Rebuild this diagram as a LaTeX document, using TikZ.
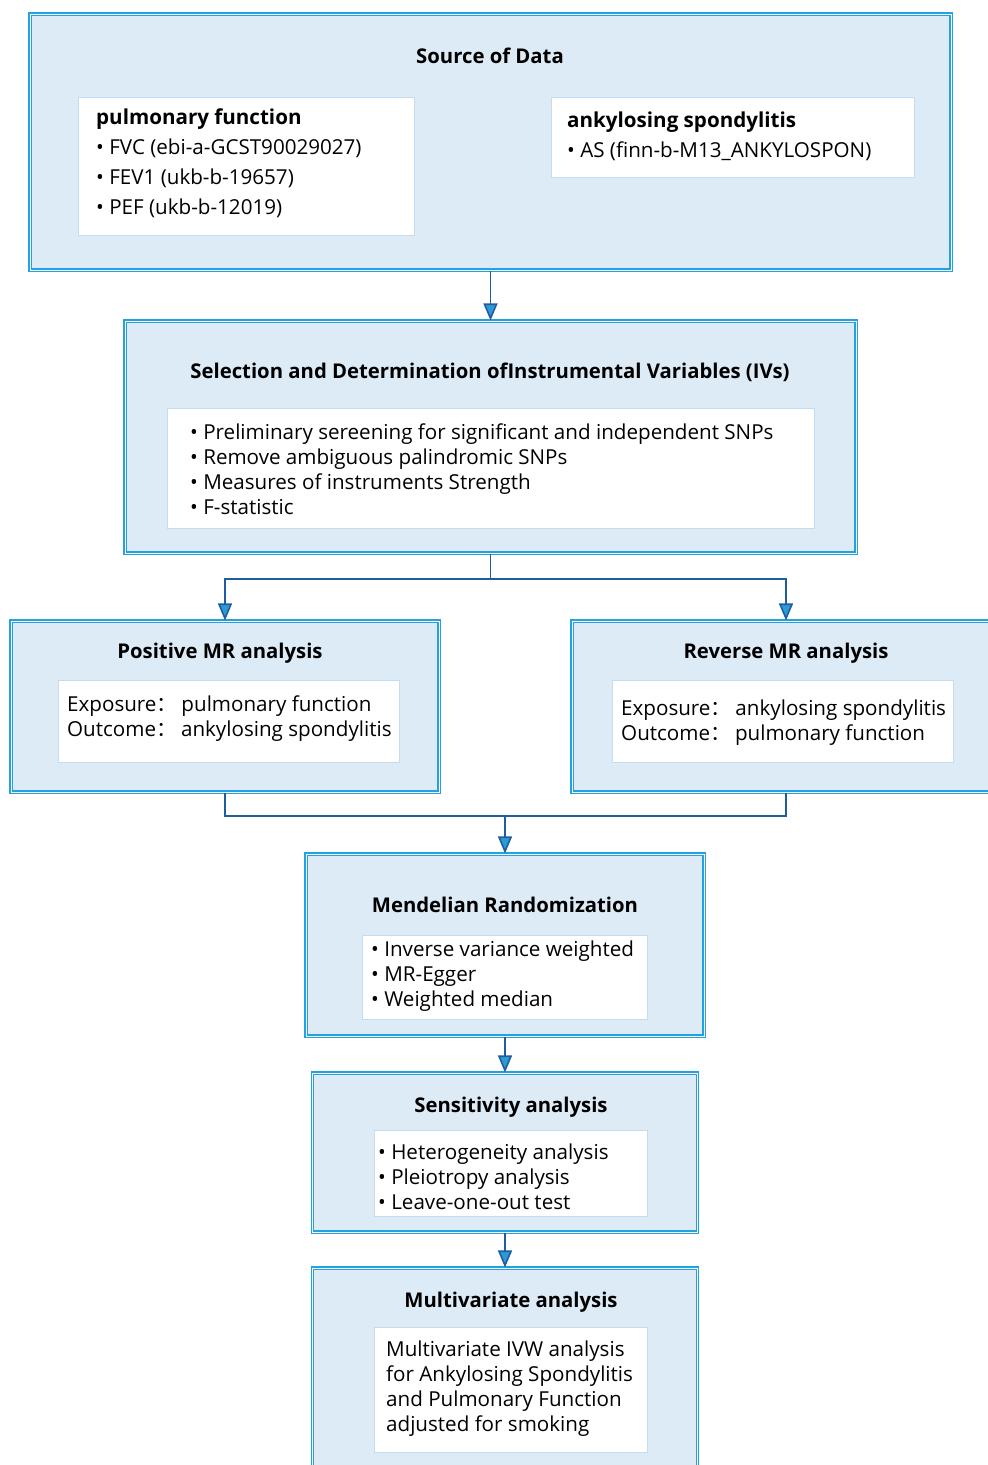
\documentclass[tikz,border=0pt]{standalone}
\usepackage{fontspec}
\setmainfont{Open Sans}
\newfontfamily\cjk{Noto Sans CJK SC}
\usetikzlibrary{arrows.meta}

\definecolor{boxfill}{HTML}{DDEBF7}
\definecolor{boxline}{HTML}{22A2DE}
\definecolor{innerline}{HTML}{C3DCEF}
\definecolor{linkline}{HTML}{1F5D9F}
\definecolor{tipfill}{HTML}{2B9BD5}

\newcommand{\fcolon}{{\cjk ：}\hspace{-1pt}}

\tikzset{
  outerbox/.style={draw=boxline, fill=boxfill, line width=1.1pt, double=white, double distance=0.9pt, inner sep=0pt},
  innerbox/.style={draw=innerline, fill=white, line width=0.8pt, inner sep=0pt},
  titletext/.style={font=\fontsize{20.3}{24}\selectfont\bfseries, inner sep=0pt},
  bodytext/.style={font=\fontsize{20.6}{#1}\selectfont, align=left, anchor=west, inner sep=0pt},
  bodytext/.default=25,
  link/.style={draw=linkline, line width=1.6pt},
  arr/.style={link, -{Triangle[width=14pt,length=17pt,fill=tipfill]}},
}

\begin{document}
\begin{tikzpicture}[x=1pt,y=-1pt]
  \useasboundingbox (0,0) rectangle (988,1465);
  \clip (0,0) rectangle (988,1465);

  % source of data
  \node[outerbox, minimum width=921pt, minimum height=256pt] (src) at (490.5,142) {};
  \node[titletext] (srctitle) at (490,56) {Source of Data};
  \node[innerbox, minimum width=336pt, minimum height=138pt] (pfbox) at (246,166) {};
  \node[bodytext=30] (pftext) at (96,163) {\textbf{pulmonary function}\\• FVC (ebi-a-GCST90029027)\\• FEV1 (ukb-b-19657)\\• PEF (ukb-b-12019)};
  \node[innerbox, minimum width=363pt, minimum height=80pt] (asbox) at (732.5,137) {};
  \node[bodytext=30] (astext) at (567,136) {\textbf{ankylosing spondylitis}\\• AS (finn-b-M13\_ANKYLOSPON)};

  % instrumental variables
  \node[outerbox, minimum width=731pt, minimum height=232pt] (sel) at (490.5,437) {};
  \node[titletext] (seltitle) at (490,372) {Selection and Determination ofInstrumental Variables (IVs)};
  \node[innerbox, minimum width=647pt, minimum height=120pt] (selbox) at (490.5,468) {};
  \node[bodytext] (seltext) at (190,469.5) {• Preliminary sereening for significant and independent SNPs\\• Remove ambiguous palindromic SNPs\\• Measures of instruments Strength\\• F-statistic};

  % two directions
  \node[outerbox, minimum width=428pt, minimum height=171pt] (pos) at (225,706.5) {};
  \node[titletext] (postitle) at (220,653) {Positive MR analysis};
  \node[innerbox, minimum width=341pt, minimum height=82pt] (posbox) at (228.5,721) {};
  \node[bodytext] (postext) at (67,718.5) {Exposure\fcolon{} pulmonary function\\Outcome\fcolon{} ankylosing spondylitis};

  \node[outerbox, minimum width=428pt, minimum height=171pt] (rev) at (786,706.5) {};
  \node[titletext] (revtitle) at (786,653) {Reverse MR analysis};
  \node[innerbox, minimum width=341pt, minimum height=82pt] (revbox) at (782.5,721) {};
  \node[bodytext] (revtext) at (621,722.5) {Exposure\fcolon{} ankylosing spondylitis\\Outcome\fcolon{} pulmonary function};

  % mendelian randomization
  \node[outerbox, minimum width=398pt, minimum height=182pt] (mr) at (505,945) {};
  \node[titletext] (mrtitle) at (505,905) {Mendelian Randomization};
  \node[innerbox, minimum width=285pt, minimum height=84pt] (mrbox) at (504.5,977) {};
  \node[bodytext] (mrtext) at (371,976) {• Inverse variance weighted\\• MR-Egger\\• Weighted median};

  % sensitivity
  \node[outerbox, minimum width=385pt, minimum height=159pt] (sens) at (505,1152.5) {};
  \node[titletext] (senstitle) at (511,1107) {Sensitivity analysis};
  \node[innerbox, minimum width=273pt, minimum height=86pt] (sensbox) at (510.5,1173) {};
  \node[bodytext] (senstext) at (378,1177) {• Heterogeneity analysis\\• Pleiotropy analysis\\• Leave-one-out test};

  % multivariate
  \node[outerbox, minimum width=385pt, minimum height=220pt] (multi) at (505,1378) {};
  \node[titletext] (multititle) at (511,1302) {Multivariate analysis};
  \node[innerbox, minimum width=273pt, minimum height=125pt] (multibox) at (510.5,1389.5) {};
  \node[bodytext] (multitext) at (386,1388.5) {Multivariate IVW analysis\\for Ankylosing Spondylitis\\and Pulmonary Function\\adjusted for smoking};

  \coordinate (split) at (490.5,579);
  \coordinate (merge) at (505,816);

  \draw[arr] (src) -- (sel);
  \draw[link] (sel) -- (split);
  \draw[arr] (split) -| (pos);
  \draw[arr] (split) -| (rev);
  \draw[link] (pos) |- (merge);
  \draw[link] (rev) |- (merge);
  \draw[arr] (merge) -- (mr);
  \draw[arr] (mr) -- (sens);
  \draw[arr] (sens) -- (multi);
\end{tikzpicture}
\end{document}
